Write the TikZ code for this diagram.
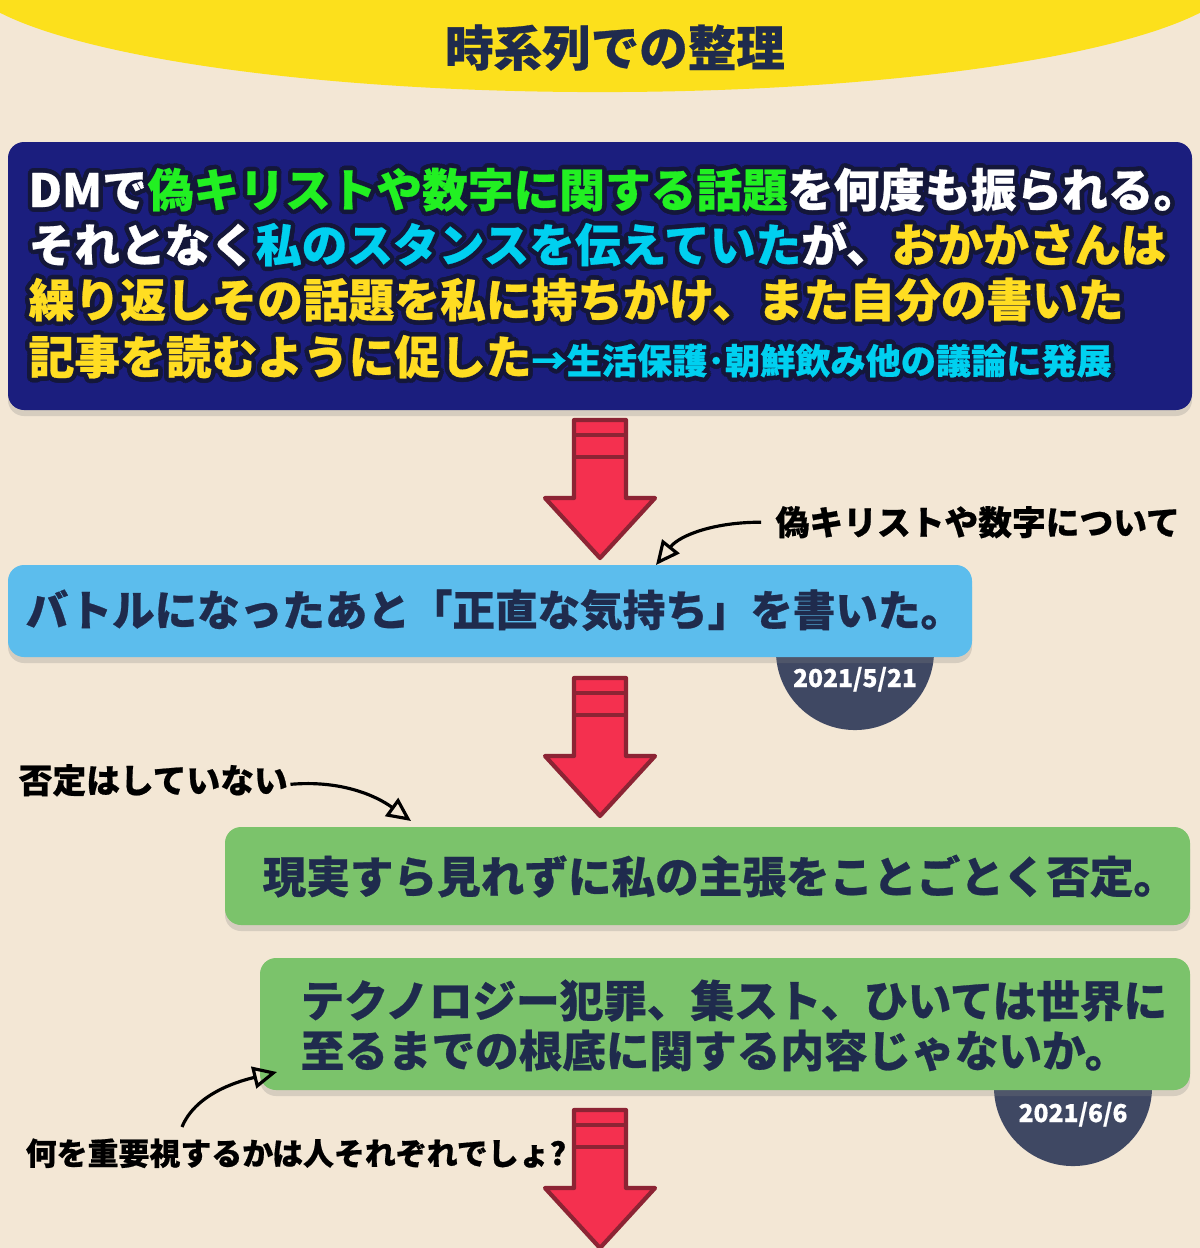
\documentclass[tikz,border=0pt]{standalone}
\usepackage{fontspec}
\usepackage{contour}
\usetikzlibrary{arrows.meta,shadows}
\newfontfamily\jp{Noto Sans CJK JP}[FakeBold=0.6]
\contourlength{1.3pt}
\definecolor{paper}{HTML}{F3E7D5}
\definecolor{titleyellow}{HTML}{FCE01C}
\definecolor{navybox}{HTML}{1B1E7E}
\definecolor{rim}{HTML}{14173A}
\definecolor{hlgreen}{HTML}{22F022}
\definecolor{hlcyan}{HTML}{00D0F0}
\definecolor{hlyellow}{HTML}{FFDD22}
\definecolor{boxblue}{HTML}{5CBDED}
\definecolor{boxgreen}{HTML}{7BC36B}
\definecolor{ink}{HTML}{1F2B4D}
\definecolor{datedisc}{HTML}{3F4863}
\definecolor{arrowred}{HTML}{F4304F}
\definecolor{arrowrim}{HTML}{8C2434}
\newcommand{\hl}[2]{\contour{rim}{\textcolor{#1}{#2}}}
\newcommand{\redarrow}[1]{
  \draw[arrowrim,fill=arrowred,line width=1.2pt,line join=round]
    (574,#1) -- (626,#1) -- (626,#1+78) -- (655,#1+78) -- (600,#1+138)
    -- (545,#1+78) -- (574,#1+78) -- cycle;
  \draw[arrowrim,line width=1.2pt] (574,#1+15) -- (626,#1+15) (574,#1+37) -- (626,#1+37);}

\begin{document}
\begin{tikzpicture}[x=0.01cm,y=-0.01cm,
  box/.style={rounded corners=0.16cm,drop shadow={shadow xshift=0cm,shadow yshift=-0.06cm,opacity=0.25}},
  txt/.style={anchor=base west,inner sep=0pt},
  note/.style={txt,font=\jp\bfseries\fontsize{9.6}{11}\selectfont,text=black},
  pointer/.style={-{Triangle[open,length=0.24cm,width=0.22cm]},line width=0.9pt,black},
  datetext/.style={anchor=base,inner sep=0pt,text=white,font=\jp\bfseries\fontsize{7}{8}\selectfont}]
\useasboundingbox (0,0) rectangle (1200,1248);
\fill[paper] (0,0) rectangle (1200,1248);
%title cap
\begin{scope}
  \clip (0,0) rectangle (1200,1248);
  \fill[titleyellow] (600,-30) ellipse [x radius=6.4cm,y radius=1.22cm];
\end{scope}
\node[anchor=base,inner sep=0pt,text=ink,font=\jp\bfseries\fontsize{13.8}{16}\selectfont] (title) at (615,66) {時系列での整理};
%first box
\fill[navybox,box] (8,142) rectangle (1192,410);
\begin{scope}[font=\jp\bfseries\fontsize{13}{15.8}\selectfont]
\node[txt] (line1) at (28,207) {\hl{white}{DMで}\hl{hlgreen}{偽キリストや数字に関する話題}\hl{white}{を何度も振られる。}};
\node[txt] (line2) at (28,262) {\hl{white}{それとなく}\hl{hlcyan}{私のスタンスを伝えていた}\hl{white}{が、}\hl{hlyellow}{おかかさんは}};
\node[txt] (line3) at (28,317) {\hl{hlyellow}{繰り返しその話題を私に持ちかけ、また自分の書いた}};
\node[txt] (line4) at (28,374) {\hl{hlyellow}{記事を読むように促した}\hl{hlcyan}{\fontsize{10}{12}\selectfont →生活保護･朝鮮飲み他の議論に発展}};
\end{scope}
\redarrow{420}
%second box
\fill[datedisc] (855,651) circle [radius=0.79cm];
\fill[boxblue,box] (8,565) rectangle (972,657);
\node[txt,text=ink,font=\jp\bfseries\fontsize{12.1}{14}\selectfont] (battle) at (25,626) {バトルになったあと「正直な気持ち」を書いた。};
\node[datetext] (date1) at (855,687) {2021/5/21};
\node[note] (n1) at (775,535) {偽キリストや数字について};
\coordinate (t1) at (656,565);
\draw[pointer] (n1.west) ++(-14,0) .. controls (715,522) and (680,535) .. (t1);
\redarrow{678}
%third box
\fill[boxgreen,box] (225,827) rectangle (1190,925);
\node[txt,text=ink,font=\jp\bfseries\fontsize{12.4}{14}\selectfont] (deny) at (262,893) {現実すら見れずに私の主張をことごとく否定。};
\node[note] (n2) at (18,793) {否定はしていない};
\coordinate (t2) at (411,821);
\draw[pointer] (n2.east) ++(2,4) .. controls (340,780) and (375,795) .. (t2);
%fourth box
\fill[datedisc] (1073,1087) circle [radius=0.79cm];
\fill[boxgreen,box] (260,958) rectangle (1190,1090);
\begin{scope}[text=ink,font=\jp\bfseries\fontsize{12.4}{14}\selectfont]
\node[txt] (tech1) at (300,1017) {テクノロジー犯罪、集スト、ひいては世界に};
\node[txt] (tech2) at (300,1067) {至るまでの根底に関する内容じゃないか。};
\end{scope}
\node[datetext] (date2) at (1073,1122) {2021/6/6};
\node[note,font=\jp\bfseries\fontsize{8.8}{10}\selectfont] (n3) at (25,1165) {何を重要視するかは人それぞれでしょ?};
\coordinate (t3) at (277,1072);
\draw[pointer] (182,1127) .. controls (195,1095) and (235,1082) .. (t3);
\redarrow{1110}
\end{tikzpicture}
\end{document}
